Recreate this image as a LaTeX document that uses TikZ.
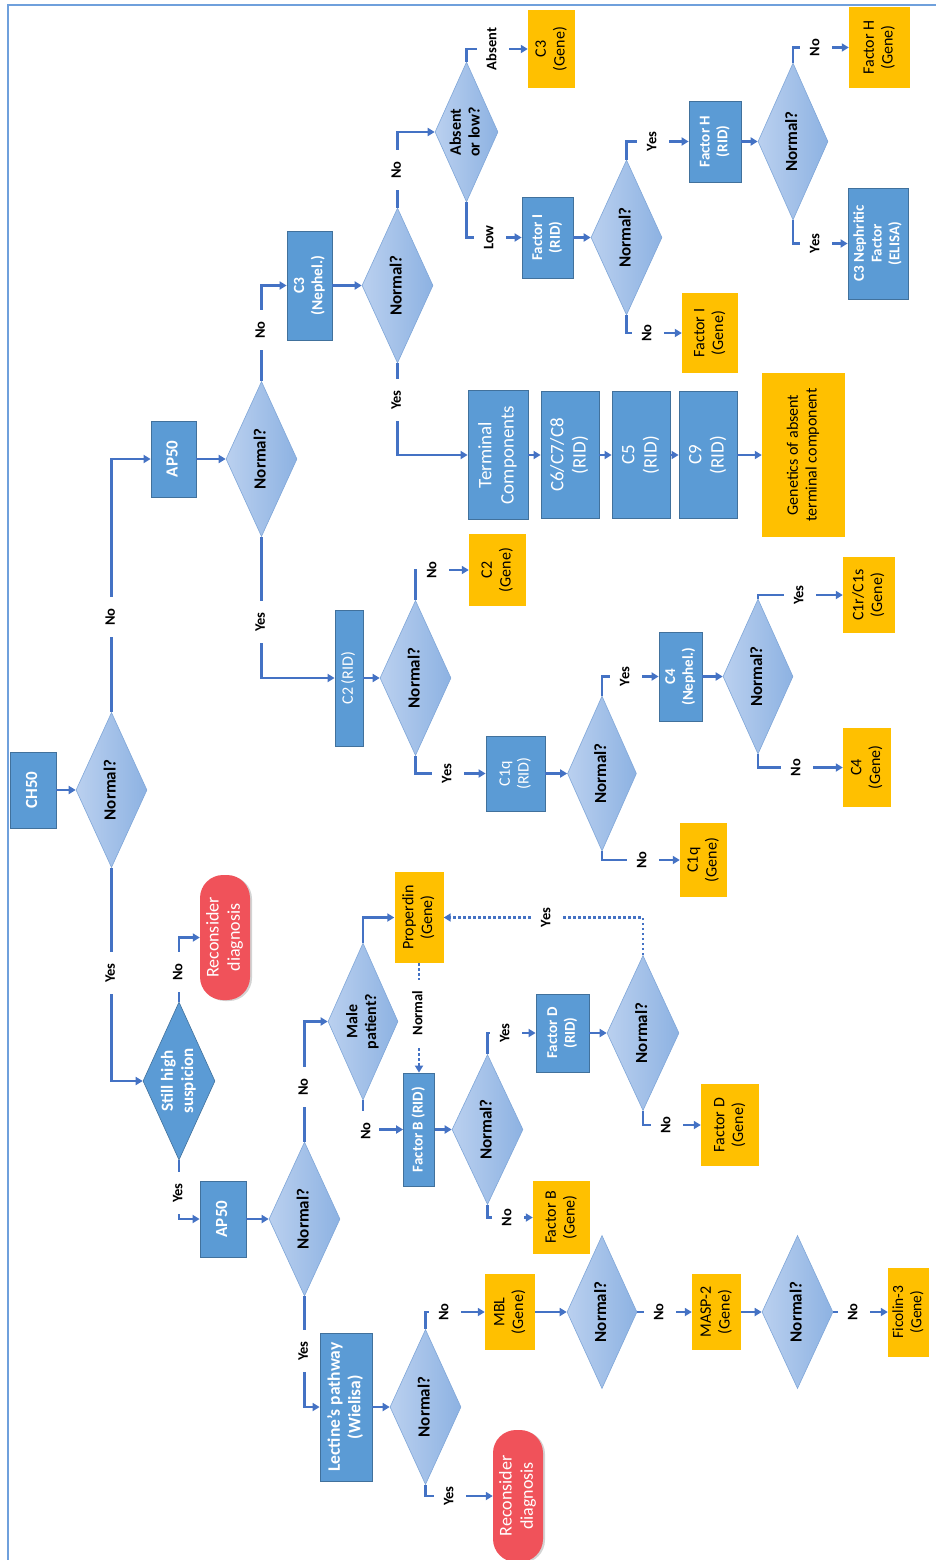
\documentclass[tikz,border=0pt]{standalone}
\usepackage{fontspec}
\setmainfont{Carlito}
\usepackage{graphicx}
\usetikzlibrary{shapes.geometric,arrows.meta,shadows}
\definecolor{boxblue}{HTML}{5B9BD5}
\definecolor{boxedge}{HTML}{41719C}
\definecolor{gold}{HTML}{FFC000}
\definecolor{decL}{HTML}{BAD0EF}
\definecolor{decR}{HTML}{8DB2E2}
\definecolor{decedge}{HTML}{7FA6D8}
\definecolor{conn}{HTML}{4472C4}
\definecolor{redbox}{HTML}{F0525A}
\definecolor{framec}{HTML}{6FA0DC}
\newcommand{\rt}[1]{\rotatebox{90}{\begin{tabular}{@{}c@{}}#1\end{tabular}}}
\newcommand{\fsz}[1]{\fontsize{#1}{\dimexpr #1pt*118/100\relax}\selectfont}
\tikzset{
 bbox/.style={rectangle, fill=boxblue, draw=boxedge, line width=0.8pt, text=white, inner sep=0pt, font=\fsz{16}},
 gbox/.style={rectangle, fill=gold, inner sep=0pt, text=black, font=\fsz{16}},
 dec/.style={diamond, aspect=0.45, left color=decL, right color=decR, draw=decedge, line width=0.6pt, inner sep=0pt, text=black, font=\bfseries\fsz{17}},
 darkdec/.style={diamond, aspect=0.45, fill=boxblue, draw=boxedge, line width=0.6pt, inner sep=0pt, text=white, font=\bfseries\fsz{17}},
 endbox/.style={rectangle, rounded corners=23pt, fill=redbox, text=white, inner sep=0pt, font=\fsz{18}, drop shadow={shadow xshift=2pt, shadow yshift=-1pt, opacity=0.35}},
 lblv/.style={fill=white, inner xsep=3pt, inner ysep=11pt, font=\bfseries\fsz{14.5}},
 lblh/.style={fill=white, inner xsep=7pt, inner ysep=2pt, font=\bfseries\fsz{14.5}},
 cn/.style={draw=conn, line width=2.5pt, -{Triangle[length=7pt,width=8pt]}},
 dotc/.style={dash pattern=on 2.5pt off 2.5pt},
 sz/.style 2 args={minimum width=#1pt, minimum height=#2pt},
 bf/.style={font=\bfseries\fsz{#1}},
 fs/.style={font=\fsz{#1}},
}
\begin{document}
\begin{tikzpicture}[x=1pt,y=-1pt]
\useasboundingbox (0,0) rectangle (936,1560);
\draw[framec, line width=1.5pt] (8,1560) -- (8,5) -- (936,5);

% ---------- nodes ----------
\node[bbox, sz={46}{76}, bf=17] (ch50) at (33,790) {\rt{CH50}};
\node[dec, sz={71}{155}] (dch) at (111.5,790) {\rt{Normal?}};
\node[bbox, sz={45}{76}, bf=17] (ap1) at (173.5,459) {\rt{AP50}};
\node[dec, sz={71}{155}] (dap1) at (261.5,459) {\rt{Normal?}};
\node[bbox, sz={45}{109}, bf=15.5] (c3n) at (309.5,285.5) {\rt{C3\\(Nephel.)}};
\node[dec, sz={71}{155}] (dc3) at (397.5,285.5) {\rt{Normal?}};
\node[dec, sz={63}{140}, bf=16] (dabs) at (466.5,132) {\rt{Absent\\or low?}};
\node[gbox, sz={47}{78}] (c3g) at (551.5,49) {\rt{C3\\(Gene)}};
\node[bbox, sz={51}{81}, bf=15] (fi) at (547.5,237.5) {\rt{Factor I\\(RID)}};
\node[dec, sz={71}{155}] (dfi) at (626.5,237.5) {\rt{Normal?}};
\node[bbox, sz={52}{81}, bf=15] (fh) at (715,141.5) {\rt{Factor H\\(RID)}};
\node[dec, sz={70}{157}] (dfh) at (793,141.5) {\rt{Normal?}};
\node[gbox, sz={61}{81}] (fhg) at (879.5,47.5) {\rt{Factor H\\(Gene)}};
\node[bbox, sz={60}{111}, bf=15] (c3nef) at (878,243.5) {\rt{C3 Nephritic\\Factor\\(ELISA)}};
\node[gbox, sz={56}{80}] (fig) at (710,333) {\rt{Factor I\\(Gene)}};
\node[bbox, sz={60}{129}, fs=19] (term) at (498,455) {\rt{Terminal\\Components}};
\node[bbox, sz={58}{127}, fs=19] (c678) at (570,455) {\rt{C6/C7/C8\\(RID)}};
\node[bbox, sz={58}{127}, fs=19] (c5) at (641,455) {\rt{C5\\(RID)}};
\node[bbox, sz={58}{127}, fs=19] (c9) at (708,455) {\rt{C9\\(RID)}};
\node[gbox, sz={83}{164}] (gen) at (803.5,455) {\rt{Genetics of absent\\terminal component}};
\node[bbox, sz={28}{136}] (c2) at (349,678) {\rt{C2 (RID)}};
\node[dec, sz={71}{155}] (dc2) at (415.5,678) {\rt{Normal?}};
\node[gbox, sz={57}{72}] (c2g) at (497.5,570) {\rt{C2\\(Gene)}};
\node[bbox, sz={59}{75}] (c1q) at (515.5,773.5) {\rt{C1q\\(RID)}};
\node[dec, sz={69}{155}] (dc1q) at (602,773.5) {\rt{Normal?}};
\node[bbox, sz={43}{89}, bf=15] (c4n) at (680.5,676.5) {\rt{C4\\(Nephel.)}};
\node[dec, sz={70}{155}] (dc4) at (758,676.5) {\rt{Normal?}};
\node[gbox, sz={52}{76}] (c1r) at (869,595) {\rt{C1r/C1s\\(Gene)}};
\node[gbox, sz={48}{79}] (c4g) at (867,767.5) {\rt{C4\\(Gene)}};
\node[gbox, sz={47}{74}] (c1qg) at (703.5,860) {\rt{C1q\\(Gene)}};
\node[endbox, sz={50}{125}] (rec1) at (225,937.5) {\rt{Reconsider\\diagnosis}};
\node[darkdec, sz={72}{158}] (dsh) at (179,1081) {\rt{Still high\\suspicion}};
\node[bbox, sz={46}{76}, bf=17] (ap2) at (223,1219) {\rt{AP50}};
\node[dec, sz={71}{154}] (dap2) at (304.5,1219) {\rt{Normal?}};
\node[dec, sz={70}{157}, bf=16] (male) at (363,1021.5) {\rt{Male\\patient?}};
\node[gbox, sz={49}{91}] (prop) at (419,917.5) {\rt{Properdin\\(Gene)}};
\node[bbox, sz={31}{113}, bf=15] (fb) at (419,1129.5) {\rt{Factor B (RID)}};
\node[dec, sz={71}{150}] (dfb) at (487.5,1129.5) {\rt{Normal?}};
\node[bbox, sz={53}{78}, bf=15] (fd) at (562.5,1033) {\rt{Factor D\\(RID)}};
\node[dec, sz={72}{155}] (dfd) at (643,1033) {\rt{Normal?}};
\node[gbox, sz={58}{82}] (fdg) at (730,1125) {\rt{Factor D\\(Gene)}};
\node[gbox, sz={57}{73}] (fbg) at (561.5,1217.5) {\rt{Factor B\\(Gene)}};
\node[bbox, sz={52}{148}, bf=17.5] (lec) at (346,1407) {\rt{Lectine’s pathway\\(Wielisa)}};
\node[dec, sz={71}{155}] (dlec) at (425.5,1407) {\rt{Normal?}};
\node[gbox, sz={50}{76}] (mbl) at (510,1312) {\rt{MBL\\(Gene)}};
\node[dec, sz={70}{153}] (dmbl) at (602,1312) {\rt{Normal?}};
\node[gbox, sz={49}{76}] (masp) at (716.5,1312) {\rt{MASP-2\\(Gene)}};
\node[dec, sz={71}{153}] (dmasp) at (797.5,1312) {\rt{Normal?}};
\node[gbox, sz={41}{89}, fs=15.5] (fic) at (908.5,1312) {\rt{Ficolin-3\\(Gene)}};
\node[endbox, sz={50}{132}] (rec2) at (518,1496) {\rt{Reconsider\\diagnosis}};

% ---------- connectors ----------
\draw[cn] (ch50.east) -- (dch.west);
\draw[cn] (dch.north) |- (ap1.west);
\draw[cn] (dch.south) |- (dsh.west);
\draw[cn] (ap1.east) -- (dap1.west);
\draw[cn] (dap1.north) |- (c3n.west);
\draw[cn] (dap1.south) |- (c2.west);
\draw[cn] (c3n.east) -- (dc3.west);
\draw[cn] (dc3.north) |- (dabs.west);
\draw[cn] (dc3.south) |- (term.west);
\draw[cn] (dabs.north) |- (c3g.west);
\draw[cn] (dabs.south) |- (fi.west);
\draw[cn] (fi.east) -- (dfi.west);
\draw[cn] (dfi.north) |- (fh.west);
\draw[cn] (dfi.south) |- (fig.west);
\draw[cn] (fh.east) -- (dfh.west);
\draw[cn] (dfh.north) |- (fhg.west);
\draw[cn] (dfh.south) |- (c3nef.west);
\draw[cn] (term.east) -- (c678.west);
\draw[cn] (c678.east) -- (c5.west);
\draw[cn] (c5.east) -- (c9.west);
\draw[cn] (c9.east) -- (gen.west);
\draw[cn] (c2.east) -- (dc2.west);
\draw[cn] (dc2.north) |- (c2g.west);
\draw[cn] (dc2.south) |- (c1q.west);
\draw[cn] (c1q.east) -- (dc1q.west);
\draw[cn] (dc1q.north) |- (c4n.west);
\draw[cn] (dc1q.south) |- (c1qg.west);
\draw[cn] (c4n.east) -- (dc4.west);
\draw[cn] (dc4.north) |- (c1r.west);
\draw[cn] (dc4.south) |- (c4g.west);
\draw[cn] (dsh.north) |- (rec1.west);
\draw[cn] (dsh.south) |- (ap2.west);
\draw[cn] (ap2.east) -- (dap2.west);
\draw[cn] (dap2.north) |- (male.west);
\draw[cn] (dap2.south) |- (lec.west);
\draw[cn] (male.north) |- (prop.west);
\draw[cn] (male.south) |- (fb.west);
\draw[cn, dotc] (prop.south) -- (fb.north);
\draw[cn] (fb.east) -- (dfb.west);
\draw[cn] (dfb.north) |- (fd.west);
\draw[cn] (dfb.south) |- (fbg.west);
\draw[cn] (fd.east) -- (dfd.west);
\draw[cn, dotc] (dfd.north) |- (prop.east);
\draw[cn] (dfd.south) |- (fdg.west);
\draw[cn] (lec.east) -- (dlec.west);
\draw[cn] (dlec.north) |- (mbl.west);
\draw[cn] (dlec.south) |- (rec2.west);
\draw[cn] (mbl.east) -- (dmbl.west);
\draw[cn] (dmbl.east) -- (masp.west);
\draw[cn] (masp.east) -- (dmasp.west);
\draw[cn] (dmasp.east) -- (fic.west);

% ---------- labels ----------
\node[lblv] (l1) at (111.5,617) {\rt{No}};
\node[lblv] (l2) at (111.5,973) {\rt{Yes}};
\node[lblv] (l3) at (261.5,330) {\rt{No}};
\node[lblv] (l4) at (261.5,622) {\rt{Yes}};
\node[lblv] (l5) at (397.5,170) {\rt{No}};
\node[lblv] (l6) at (397.5,400) {\rt{Yes}};
\node[lblh] (l7) at (493,49) {\rt{Absent}};
\node[lblh] (l8) at (490,237.5) {\rt{Low}};
\node[lblh] (l9) at (653,141.5) {\rt{Yes}};
\node[lblh] (l10) at (648,333) {\rt{No}};
\node[lblh] (l11) at (816,47.5) {\rt{No}};
\node[lblh] (l12) at (816,243.5) {\rt{Yes}};
\node[lblh] (l13) at (433,570) {\rt{No}};
\node[lblh] (l14) at (448,773.5) {\rt{Yes}};
\node[lblh] (l15) at (626,676.5) {\rt{Yes}};
\node[lblh] (l16) at (643,860) {\rt{No}};
\node[lblh] (l17) at (800,595) {\rt{Yes}};
\node[lblh] (l18) at (797,767.5) {\rt{No}};
\node[lblv] (l19) at (179,972) {\rt{No}};
\node[lblv] (l20) at (179,1193) {\rt{Yes}};
\node[lblv] (l21) at (304.5,1087) {\rt{No}};
\node[lblv] (l22) at (304.5,1351) {\rt{Yes}};
\node[lblv] (l23) at (367,1131) {\rt{No}};
\node[lblv] (l24) at (419,1013) {\rt{Normal}};
\node[lblh] (l25) at (506,1033) {\rt{Yes}};
\node[lblh] (l26) at (508,1217.5) {\rt{No}};
\node[lblh] (l27) at (547,917.5) {\rt{Yes}};
\node[lblh] (l28) at (667,1125) {\rt{No}};
\node[lblh] (l29) at (445,1312) {\rt{No}};
\node[lblh] (l30) at (450,1496) {\rt{Yes}};
\node[lblh] (l31) at (660,1312) {\rt{No}};
\node[lblh] (l32) at (854,1312) {\rt{No}};
\end{tikzpicture}
\end{document}
